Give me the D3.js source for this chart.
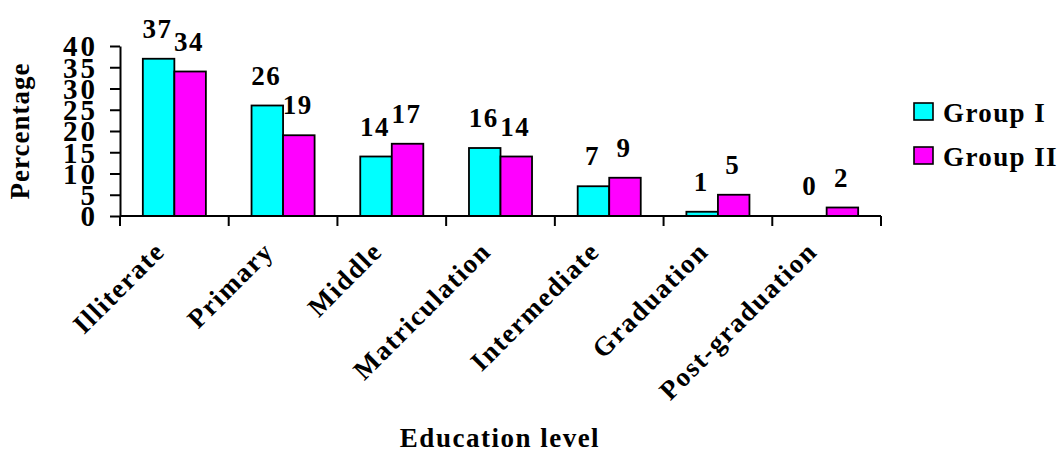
<!DOCTYPE html>
<html>
<head>
<meta charset="utf-8">
<script src="https://cdn.jsdelivr.net/npm/d3@7"></script>
<style>
  html, body { margin: 0; padding: 0; background: #fff; }
  svg { display: block; }
  text { font-family: "Liberation Serif", "Times New Roman", serif; font-weight: bold; fill: #000; }
</style>
</head>
<body>
<svg id="chart" width="1062" height="452"></svg>
<script>
// Education level distribution by group (percent)
const categories = ["Illiterate", "Primary", "Middle", "Matriculation", "Intermediate", "Graduation", "Post-graduation"];
const seriesNames = ["Group I", "Group II"];
const groupI = [37, 26, 14, 16, 7, 1, 0];
const groupII = [34, 19, 17, 14, 9, 5, 2];
const yTicks = [0, 5, 10, 15, 20, 25, 30, 35, 40];
const colors = ["#00FFFF", "#FF00FF"];

const FONT = "'Liberation Serif', 'Times New Roman', serif";

const seriesValues = [groupI, groupII];
const rows = categories.map((c, i) => ({
  category: c,
  values: seriesNames.map((s, k) => ({ series: s, value: seriesValues[k][i], color: colors[k] }))
}));

const svg = d3.select("#chart");
const plot = { left: 120, right: 881, top: 46, bottom: 216 };

const x = d3.scaleBand().domain(categories).range([plot.left, plot.right]).padding(0);
const bw = x.bandwidth();
const xSub = d3.scaleBand().domain(seriesNames).range([bw * 0.21, bw * 0.79]).padding(0);
const y = d3.scaleLinear().domain([0, 40]).range([plot.bottom, plot.top]);

// Bars
const groups = svg.append("g").selectAll("g")
  .data(rows).join("g")
  .attr("transform", d => `translate(${x(d.category)},0)`);

groups.selectAll("rect")
  .data(d => d.values.filter(v => v.value > 0))
  .join("rect")
  .attr("x", v => xSub(v.series))
  .attr("y", v => y(v.value))
  .attr("width", xSub.bandwidth())
  .attr("height", v => y(0) - y(v.value))
  .attr("fill", v => v.color)
  .attr("stroke", "#000")
  .attr("stroke-width", 1.8);

// Value labels above bars
groups.selectAll("text.val")
  .data(d => d.values)
  .join("text")
  .attr("class", "val")
  .attr("x", v => xSub(v.series) + xSub.bandwidth() / 2 - 1)
  .attr("y", v => y(v.value) - 21)
  .attr("text-anchor", "middle")
  .style("font-size", "27px")
  .style("letter-spacing", "1.5px")
  .text(v => v.value);

// Y axis
const yAxis = svg.append("g")
  .attr("transform", `translate(${plot.left},0)`)
  .call(d3.axisLeft(y).tickValues(yTicks).tickSize(10).tickPadding(12).tickSizeOuter(0));
yAxis.select(".domain").attr("stroke", "#000").attr("stroke-width", 2);
yAxis.selectAll(".tick line").attr("stroke", "#000").attr("stroke-width", 2);
yAxis.selectAll(".tick text")
  .style("font-family", FONT)
  .style("font-weight", "bold")
  .style("font-size", "29px")
  .style("letter-spacing", "3px")
  .attr("dy", "0.34em");

// X axis: baseline with ticks at category boundaries
const xAxisG = svg.append("g").attr("transform", `translate(0,${plot.bottom})`);
const boundaries = categories.map(c => x(c)).concat([x(categories[categories.length - 1]) + bw]);
xAxisG.append("line")
  .attr("x1", plot.left).attr("x2", plot.right)
  .attr("y1", 0).attr("y2", 0)
  .attr("stroke", "#000").attr("stroke-width", 2);
xAxisG.selectAll("line.tick")
  .data(boundaries).join("line")
  .attr("class", "tick")
  .attr("x1", d => d).attr("x2", d => d)
  .attr("y1", 0).attr("y2", 10)
  .attr("stroke", "#000").attr("stroke-width", 2);

// Rotated category labels
svg.append("g").selectAll("text")
  .data(categories).join("text")
  .attr("transform", d => `translate(${x(d) + bw / 2 - 8},253) rotate(-45)`)
  .attr("text-anchor", "end")
  .style("font-size", "27px")
  .style("letter-spacing", "1.6px")
  .text(d => d);

// Axis titles
svg.append("text")
  .attr("transform", "translate(29,131) rotate(-90)")
  .attr("text-anchor", "middle")
  .style("font-size", "27px")
  .style("letter-spacing", "1px")
  .text("Percentage");

svg.append("text")
  .attr("x", 500).attr("y", 447)
  .attr("text-anchor", "middle")
  .style("font-size", "27px")
  .style("letter-spacing", "1.5px")
  .text("Education level");

// Legend
const legend = svg.append("g").selectAll("g")
  .data(seriesNames).join("g")
  .attr("transform", (d, i) => `translate(914,${103 + i * 44})`);
legend.append("rect")
  .attr("width", 19).attr("height", 17)
  .attr("fill", (d, i) => colors[i])
  .attr("stroke", "#000").attr("stroke-width", 1.6);
legend.append("text")
  .attr("x", 29).attr("y", 19)
  .style("font-size", "27px")
  .style("letter-spacing", "1.4px")
  .text(d => d);
</script>
</body>
</html>
